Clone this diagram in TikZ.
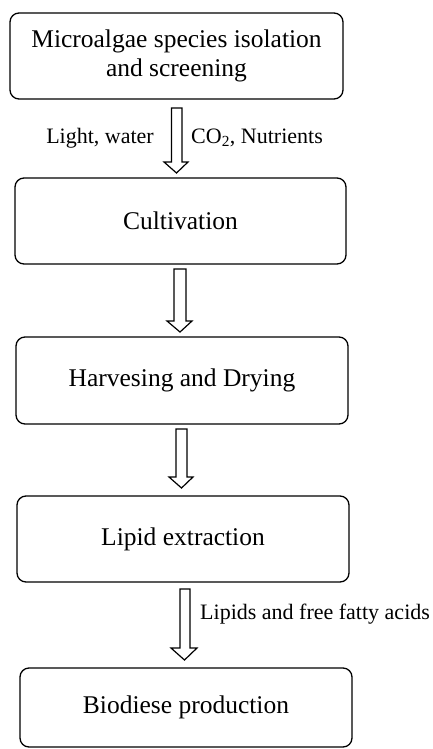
\documentclass[tikz,border=0pt]{standalone}
\usepackage{fontspec}
\setmainfont{Liberation Serif}
\begin{document}
\begin{tikzpicture}[x=1pt,y=-1pt,
  box/.style={draw=black, line width=1.3pt, rounded corners=9pt, align=center,
    inner sep=0pt, font=\fontsize{25.5}{29}\selectfont},
  lbl/.style={inner sep=0pt, font=\fontsize{22}{26}\selectfont},
  barrow/.style={draw=black, line width=1.2pt, fill=white, line join=miter}]
\useasboundingbox (0,0) rectangle (433,749);
\node[box, minimum width=333pt, minimum height=86pt] (b1) at (176.5,56) {Microalgae species isolation\\and screening};
\node[box, minimum width=331pt, minimum height=86pt] (b2) at (180.5,221) {Cultivation};
\node[box, minimum width=332pt, minimum height=87pt] (b3) at (182,380.5) {Harvesing and Drying};
\node[box, minimum width=332pt, minimum height=86pt] (b4) at (183,539) {Lipid extraction};
\node[box, minimum width=332pt, minimum height=79pt] (b5) at (186,707.5) {Biodiese production};
% block arrows
\draw[barrow] (171.5,108) -- (182,108) -- (182,162) -- (188,162) -- (176.5,173) -- (164,162) -- (171.5,162) -- cycle;
\draw[barrow] (174,269) -- (186,269) -- (186,321) -- (192,321) -- (180,332) -- (167,321) -- (174,321) -- cycle;
\draw[barrow] (176,429) -- (187,429) -- (187,477) -- (193,477) -- (181.5,488) -- (169,477) -- (176,477) -- cycle;
\draw[barrow] (180,589) -- (190,589) -- (190,648) -- (197,648) -- (184.5,660) -- (171,648) -- (180,648) -- cycle;
% labels
\node[lbl, anchor=east] (l1) at (154,138) {Light, water};
\node[lbl, anchor=west] (l2) at (191,138) {CO\textsubscript{2}, Nutrients};
\node[lbl, anchor=west] (l3) at (200,614) {Lipids and free fatty acids};
\end{tikzpicture}
\end{document}
